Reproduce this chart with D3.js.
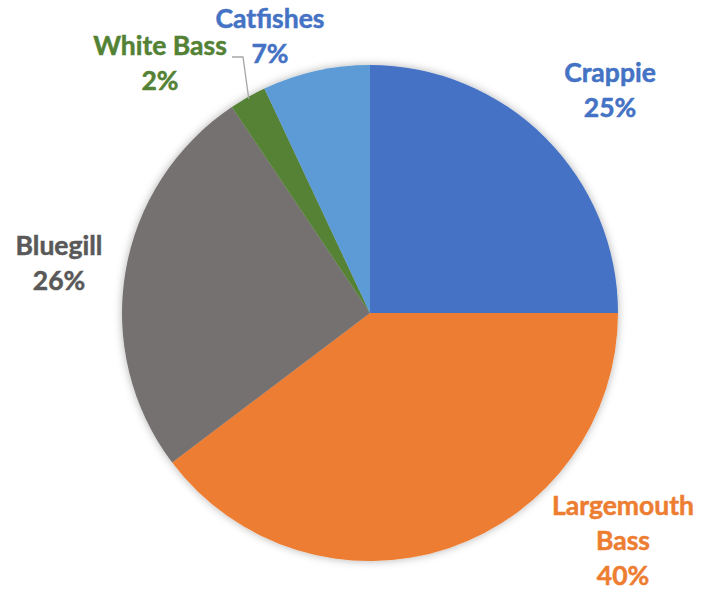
<!DOCTYPE html>
<html>
<head>
<meta charset="utf-8">
<script src="https://cdn.jsdelivr.net/npm/d3@7"></script>
<style>
  html, body { margin: 0; padding: 0; background: #fff; }
  svg { display: block; }
</style>
</head>
<body>
<svg id="chart" width="703" height="596"></svg>
<script>
// ---- data ----
const categories = ["Crappie", "Largemouth Bass", "Bluegill", "White Bass", "Catfishes"];
const values = [25.0, 39.7, 25.9, 2.4, 7.0];
const labelLines = [["Crappie"], ["Largemouth", "Bass"], ["Bluegill"], ["White Bass"], ["Catfishes"]];
const sliceColors = ["#4472C4", "#ED7D31", "#767171", "#548235", "#5B9BD5"];
const textColors = ["#4472C4", "#ED7D31", "#595959", "#548235", "#4472C4"];

// ---- layout ----
const W = 703, H = 596;
const cx = 370, cy = 313, R = 248;
const lineH = 35;
// label anchor: x center, baseline of first line
const labelAnchor = [
  [610, 82],
  [623, 515],
  [59, 255],
  [160, 55],
  [270, 28]
];

const svg = d3.select("#chart");
const defs = svg.append("defs");
const f = defs.append("filter").attr("id", "shadow")
  .attr("x", "-20%").attr("y", "-20%").attr("width", "140%").attr("height", "140%");
f.append("feDropShadow").attr("dx", 0).attr("dy", 0).attr("stdDeviation", 4)
  .attr("flood-color", "#000").attr("flood-opacity", 0.3);

const pie = d3.pie().sort(null).value(d => d)(values);
const arc = d3.arc().innerRadius(0).outerRadius(R);

const g = svg.append("g").attr("transform", `translate(${cx},${cy})`);
g.append("g").attr("filter", "url(#shadow)")
  .selectAll("path").data(pie).join("path")
  .attr("d", arc)
  .attr("fill", (d, i) => sliceColors[i]);

// leader line for White Bass
const wb = pie[3];
const wbMid = (wb.startAngle + wb.endAngle) / 2;
const edge = [Math.sin(wbMid) * (R - 2) + cx, -Math.cos(wbMid) * (R - 2) + cy];
svg.append("polyline")
  .attr("points", `232,57 243,57 ${edge[0]},${edge[1]}`)
  .attr("fill", "none").attr("stroke", "#A6A6A6").attr("stroke-width", 1.3);

// labels
const total = d3.sum(values);
const lg = svg.append("g")
  .attr("font-family", "Lato, 'Noto Sans', sans-serif")
  .attr("font-weight", "bold")
  .attr("font-size", 26.5)
  .attr("text-anchor", "middle");
categories.forEach((c, i) => {
  const lines = labelLines[i].concat([Math.round(values[i] / total * 100) + "%"]);
  const t = lg.append("text").attr("fill", textColors[i])
    .attr("stroke", textColors[i]).attr("stroke-width", 0.5);
  lines.forEach((ln, k) => {
    t.append("tspan").attr("x", labelAnchor[i][0]).attr("y", labelAnchor[i][1] + k * lineH).text(ln);
  });
});
</script>
</body>
</html>
